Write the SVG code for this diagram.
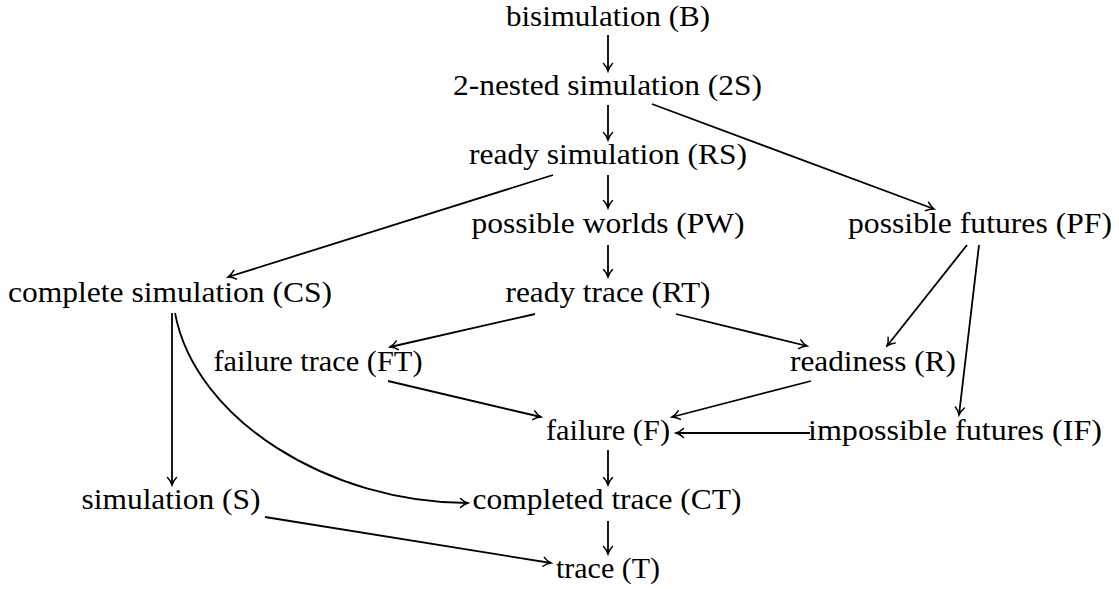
<svg xmlns="http://www.w3.org/2000/svg" width="1119" height="589" viewBox="0 0 1119 589">
<defs>
<style>
.n text{font-family:"Liberation Serif","DejaVu Serif",serif;font-size:30px;fill:#000;text-anchor:middle}
.e path{fill:none;stroke:#000;stroke-width:1.8;marker-end:url(#to)}
</style>
<marker id="to" markerUnits="userSpaceOnUse" viewBox="-9 -6 11 12" refX="0" refY="0" markerWidth="11" markerHeight="12" orient="auto">
<path d="M-7.5,-4.5 C-5,-2 -2,-0.6 0,0 C-2,0.6 -5,2 -7.5,4.5" fill="none" stroke="#000" stroke-width="1.5" stroke-linecap="round"/>
</marker>
</defs>
<rect width="1119" height="589" fill="#fff"/>
<g class="e" id="connectors">
<path d="M608,35 L608,71"/>
<path d="M608,105 L608,140"/>
<path d="M652,104 L934,209"/>
<path d="M608,175 L608,208"/>
<path d="M553,175 L228,277"/>
<path d="M608,245 L608,277"/>
<path d="M967,245 L887,346"/>
<path d="M979,245 L959,415"/>
<path d="M535,314 L390,347"/>
<path d="M676,314 L807,346"/>
<path d="M388,381 L541,417"/>
<path d="M811,381 L672,417"/>
<path d="M810,433 L676,433"/>
<path d="M172,313 L172,485"/>
<path d="M175,313 C195,420 330,503 468,503"/>
<path d="M608,450 L608,485"/>
<path d="M265,517 L551,563"/>
<path d="M608,521 L608,554"/>
</g>
<g class="n" id="B"><text x="608" y="26" textLength="204" lengthAdjust="spacingAndGlyphs">bisimulation (B)</text></g>
<g class="n" id="S2"><text x="607.5" y="95" textLength="309" lengthAdjust="spacingAndGlyphs">2-nested simulation (2S)</text></g>
<g class="n" id="RS"><text x="608" y="164" textLength="278" lengthAdjust="spacingAndGlyphs">ready simulation (RS)</text></g>
<g class="n" id="PW"><text x="608" y="233" textLength="273" lengthAdjust="spacingAndGlyphs">possible worlds (PW)</text></g>
<g class="n" id="PF"><text x="980" y="233" textLength="264" lengthAdjust="spacingAndGlyphs">possible futures (PF)</text></g>
<g class="n" id="CS"><text x="170" y="302" textLength="324" lengthAdjust="spacingAndGlyphs">complete simulation (CS)</text></g>
<g class="n" id="RT"><text x="608" y="302" textLength="205" lengthAdjust="spacingAndGlyphs">ready trace (RT)</text></g>
<g class="n" id="FT"><text x="318" y="371" textLength="209" lengthAdjust="spacingAndGlyphs">failure trace (FT)</text></g>
<g class="n" id="R"><text x="873" y="371" textLength="166" lengthAdjust="spacingAndGlyphs">readiness (R)</text></g>
<g class="n" id="F"><text x="608" y="440" textLength="124" lengthAdjust="spacingAndGlyphs">failure (F)</text></g>
<g class="n" id="IF"><text x="955" y="440" textLength="294" lengthAdjust="spacingAndGlyphs">impossible futures (IF)</text></g>
<g class="n" id="S"><text x="171" y="509" textLength="179" lengthAdjust="spacingAndGlyphs">simulation (S)</text></g>
<g class="n" id="CT"><text x="607" y="509" textLength="269" lengthAdjust="spacingAndGlyphs">completed trace (CT)</text></g>
<g class="n" id="T"><text x="608" y="578" textLength="104" lengthAdjust="spacingAndGlyphs">trace (T)</text></g>
</svg>
